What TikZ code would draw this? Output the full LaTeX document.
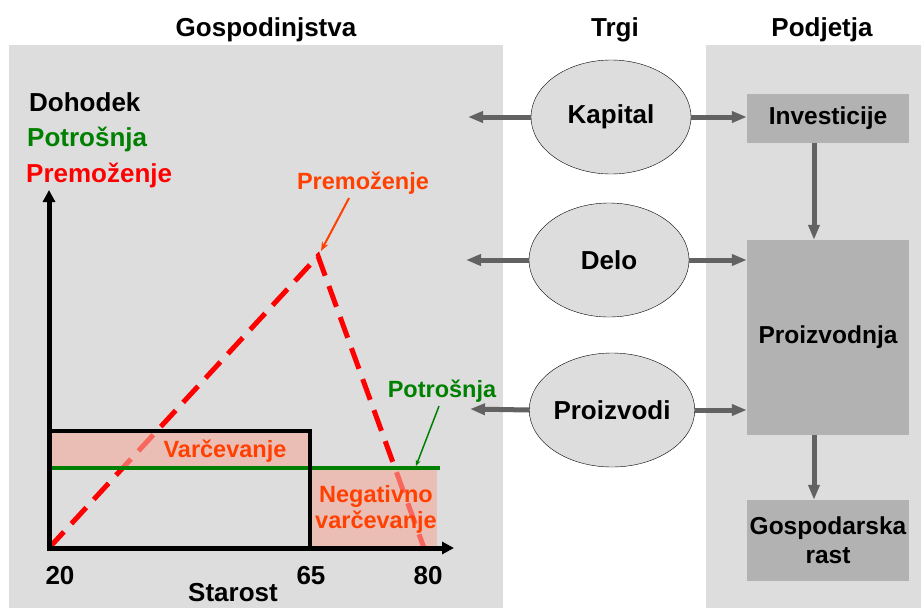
\documentclass[tikz,border=0pt]{standalone}
\usepackage{fontspec}
\setmainfont{Liberation Sans}
\usetikzlibrary{arrows.meta, shapes.geometric}
\definecolor{panelgray}{HTML}{DDDDDD}
\definecolor{boxgray}{HTML}{B2B2B2}
\definecolor{arrowgray}{HTML}{626262}
\definecolor{darkgreen}{RGB}{0,128,0}
\definecolor{orangered}{RGB}{255,64,0}
\definecolor{savingpink}{RGB}{245,170,155}

\begin{document}
\begin{tikzpicture}[x = 1pt, y = -1pt,
        every node/.append style = {font = \bfseries\fontsize{26}{30}\selectfont},
        plain/.style = {anchor = base, inner sep = 0pt},
        small/.style = {font = \bfseries\fontsize{23.5}{27}\selectfont},
        market/.style = {ellipse, draw, thin, fill = panelgray, minimum width = 160pt, minimum height = 114pt, inner sep = 0pt},
        firmbox/.style = {fill = boxgray, align = center, minimum width = 162pt, inner sep = 0pt, font = \bfseries\fontsize{24.5}{29}\selectfont},
        flow/.style = {arrowgray, line width = 5pt, -{Triangle[length = 15pt, width = 11pt]}}
    ]
    \useasboundingbox (0,0) rectangle (921,608);
    \fill[white] (0,0) rectangle (921,608);
    \fill[panelgray] (9,45) rectangle (503,608);
    \fill[panelgray] (706,45) rectangle (921,608);

    % titles
    \node[plain] (hh) at (266,36) {Gospodinjstva};
    \node[plain] (trgi) at (615,36) {Trgi};
    \node[plain] (firms) at (822,36) {Podjetja};

    % life cycle chart
    \begin{scope}
        \draw[red, line width = 5pt, dash pattern = on 22pt off 11pt] (49,548) -- (318,256) -- (424,548);
        \fill[savingpink, opacity = 0.6] (49,431) rectangle (310,468);
        \fill[savingpink, opacity = 0.6] (310,468) rectangle (437,548);
        \draw[darkgreen, line width = 4pt] (49,468) -- (440,468);
        \draw[line width = 4pt] (49,431) -- (310,431) -- (310,548);
        \draw[line width = 5pt, {Triangle[length = 12pt, width = 12pt]}-{Triangle[length = 12pt, width = 12pt]}] (49,190) -- (49,548) -- (454,548);
    \end{scope}
    \begin{scope}[every node/.append style = {plain}]
        \node[anchor = base west] (dohodek) at (29,111) {Dohodek};
        \node[anchor = base west, darkgreen] (potrosnja) at (27,146) {Potrošnja};
        \node[anchor = base west, red] (premozenje) at (26,182) {Premoženje};
        \foreach \x/\t in {60/20, 311/65, 428/80}
            \node at (\x,584) {\t};
        \node (starost) at (233,601) {Starost};
        \node[small, orangered] (pmlabel) at (363,189) {Premoženje};
        \node[small, darkgreen] (ptlabel) at (442,397) {Potrošnja};
        \node[small, orangered] (saving) at (225,457) {Varčevanje};
        \node[small, orangered, align = center, font = \bfseries\fontsize{23.5}{26}\selectfont] (dissaving) at (376,528) {Negativno\\varčevanje};
    \end{scope}
    \coordinate (peaktip) at (321,251);
    \coordinate (linetip) at (416,466);
    \draw[orangered, line width = 2pt, -{Stealth[length = 9pt, width = 7pt]}] ([xshift = -14pt, yshift = -4pt]pmlabel.south) -- (peaktip);
    \draw[darkgreen, line width = 1.5pt, -{Stealth[length = 6pt, width = 5pt]}] ([xshift = -3pt, yshift = -4pt]ptlabel.south) -- (linetip);

    % markets
    \node[market] (kapital) at (611,117) {Kapital};
    \node[market] (delo) at (609,260) {Delo};
    \node[market] (proizvodi) at (612,410) {Proizvodi};

    % firms
    \node[firmbox, minimum height = 49pt] (invest) at (828,118.5) {Investicije};
    \node[firmbox, minimum height = 195pt] (proizvodnja) at (828,337.5) {Proizvodnja};
    \node[firmbox, minimum height = 81pt] (rast) at (828,540.5) {Gospodarska\\rast};

    % flows
    \coordinate (hhkap) at (468,117);
    \coordinate (hhdelo) at (466,260);
    \coordinate (hhproiz) at (470,409);
    \draw[flow] (kapital.west) -- (hhkap);
    \draw[flow] (delo.west) -- (hhdelo);
    \draw[flow] (proizvodi.west) -- (hhproiz);
    \draw[flow] (kapital.east) -- (kapital.east -| invest.west);
    \draw[flow] (delo.east) -- (delo.east -| proizvodnja.west);
    \draw[flow] (proizvodi.east) -- (proizvodi.east -| proizvodnja.west);
    \draw[flow] ([xshift = -14pt]invest.south) -- ([xshift = -14pt]proizvodnja.north);
    \draw[flow] ([xshift = -14pt]proizvodnja.south) -- ([xshift = -14pt]rast.north);
\end{tikzpicture}
\end{document}
